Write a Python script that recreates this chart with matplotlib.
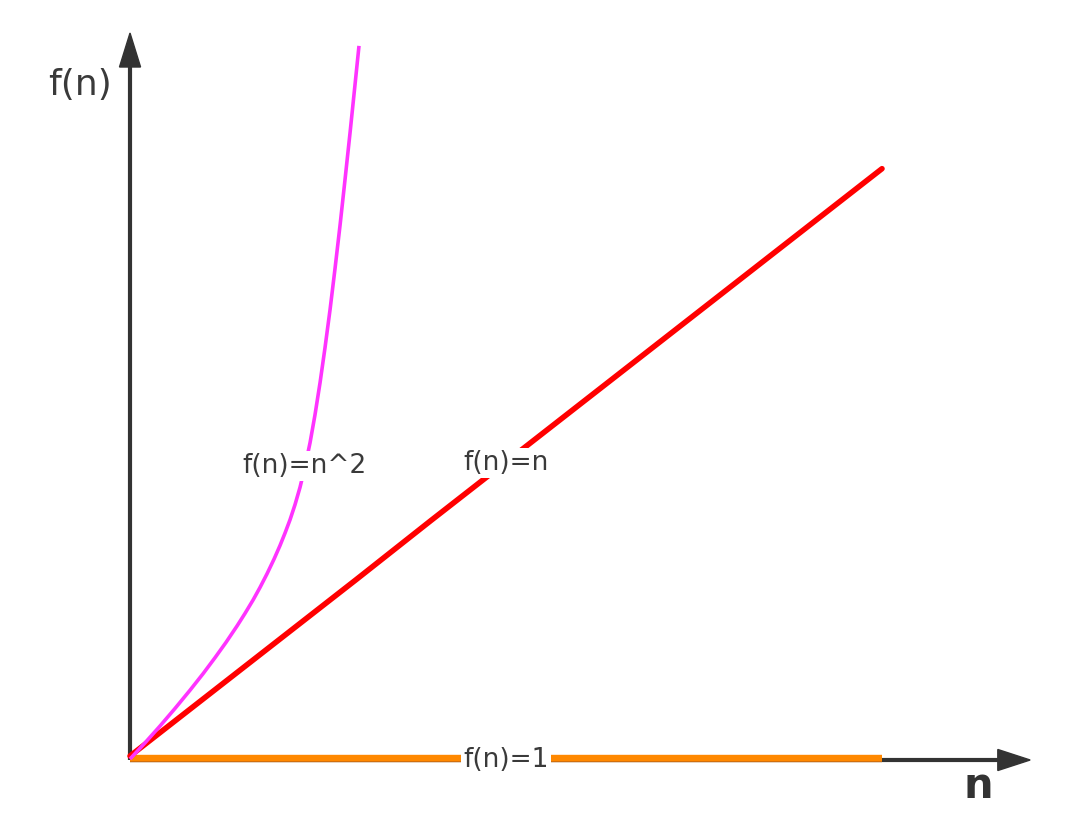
import matplotlib
matplotlib.use("Agg")
import matplotlib.pyplot as plt
from matplotlib.patches import Polygon
import matplotlib.patheffects as pe

# ---- data (units: n along x, f(n) along y) ----
const_n = [0.0, 10.0]
const_f = [0.013, 0.013]

lin_n = [0, 1, 2, 3, 4, 5, 6, 7, 8, 9, 10]
lin_f = [0.04, 0.82, 1.60, 2.38, 3.17, 3.95, 4.73, 5.51, 6.29, 7.07, 7.85]

sq_n = [0.0, 0.199, 0.399, 0.598, 0.798, 0.971, 1.130, 1.277, 1.423, 1.529,
        1.636, 1.729, 1.822, 1.915, 1.995, 2.061, 2.128, 2.194, 2.261, 2.327,
        2.394, 2.460, 2.527, 2.593, 2.660, 2.726, 2.793, 2.859, 2.926, 2.992,
        3.045]
sq_f = [0.0, 0.215, 0.439, 0.672, 0.915, 1.134, 1.347, 1.552, 1.769, 1.936,
        2.114, 2.282, 2.463, 2.658, 2.840, 3.004, 3.182, 3.382, 3.614, 3.887,
        4.206, 4.578, 5.004, 5.469, 5.975, 6.520, 7.098, 7.703, 8.328, 8.967,
        9.483]

labels = ["f(n)=1", "f(n)=n", "f(n)=n^2"]
x_title = "n"
y_title = "f(n)"

AX = "#333333"
TXT = "#3a3a3a"

fig = plt.figure(figsize=(10.7, 8.34), dpi=100)
ax = fig.add_axes([0, 0, 1, 1])
ax.set_xlim(-1.729, 12.5)
ax.set_ylim(-0.997, 10.093)
ax.axis("off")

# axes with arrow heads
ax.plot([0, 11.6], [-0.013, -0.013], color=AX, lw=3, solid_capstyle="butt", zorder=2)
ax.plot([0, 0], [-0.013, 9.25], color=AX, lw=3, solid_capstyle="butt", zorder=2)
ax.add_patch(Polygon([[11.54, -0.013 + 0.14], [11.97, -0.013], [11.54, -0.013 - 0.14]],
                     closed=True, color=AX, zorder=2))
ax.add_patch(Polygon([[-0.14, 9.202], [0, 9.654], [0.14, 9.202]],
                     closed=True, color=AX, zorder=2))

# series
ax.plot(const_n, const_f, color="#ff8800", lw=4.6, solid_capstyle="butt", zorder=3,
        path_effects=[pe.Stroke(linewidth=4.6, foreground="#c86a10", offset=(0, -1)), pe.Normal()])
ax.plot(lin_n, lin_f, color="#ff0000", lw=4.0, solid_capstyle="round", zorder=4)
ax.plot(sq_n, sq_f, color="#ff33ff", lw=2.6, solid_capstyle="butt",
        solid_joinstyle="round", zorder=5)

box = dict(boxstyle="square,pad=0.08", facecolor="white", edgecolor="none")
ax.text(5.0, -0.013, labels[0], fontsize=19, color=TXT, ha="center", va="center",
        bbox=box, zorder=6)
ax.text(5.0, 3.936, labels[1], fontsize=19, color=TXT, ha="center", va="center",
        bbox=box, zorder=6)
ax.text(2.314, 3.896, labels[2], fontsize=19, color=TXT, ha="center", va="center",
        bbox=box, zorder=6)

ax.text(-0.665, 8.963, y_title, fontsize=26, color=TXT, ha="center", va="center")
ax.text(11.277, -0.359, x_title, fontsize=30, fontweight="bold", color=AX,
        ha="center", va="center")

fig.savefig("out.png", dpi=100, facecolor="white")
